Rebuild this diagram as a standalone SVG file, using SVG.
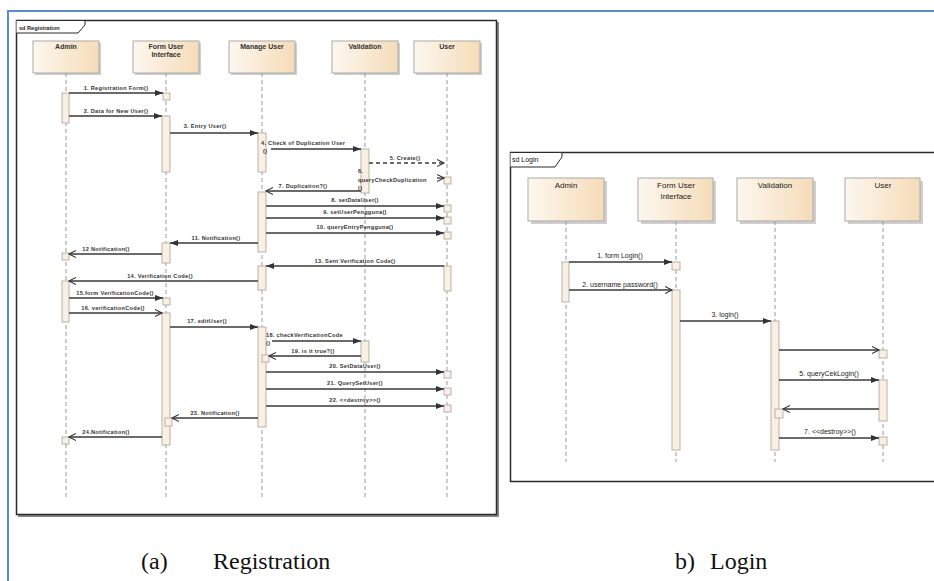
<svg xmlns="http://www.w3.org/2000/svg" width="934" height="581" viewBox="0 0 934 581">
<defs>
<linearGradient id="hg" x1="0" y1="0" x2="1" y2="0">
<stop offset="0" stop-color="#fdf7ef"/>
<stop offset="1" stop-color="#f5dcb8"/>
</linearGradient>
<marker id="f" markerUnits="userSpaceOnUse" markerWidth="9" markerHeight="7" refX="8" refY="3.5" orient="auto">
<path d="M0,0.5 L8,3.5 L0,6.5 z" fill="#333"/>
</marker>
<marker id="o" markerUnits="userSpaceOnUse" markerWidth="9" markerHeight="8" refX="7" refY="4" orient="auto">
<path d="M0,0.5 L7,4 L0,7.5" fill="none" stroke="#333" stroke-width="1.1"/>
</marker>
<style>
.head{fill:url(#hg);stroke:#aaa;stroke-width:1}
.shd{fill:#cfcfcf}
.ll{stroke:#999;stroke-width:1;stroke-dasharray:4,3;fill:none}
.act{fill:#f9efe2;stroke:#b9b2aa;stroke-width:1}
.m{stroke:#3a3a3a;stroke-width:1.3;fill:none}
.mf{marker-end:url(#f)}
.mo{marker-end:url(#o)}
.dash{stroke-dasharray:4,3}
.ht{font-family:"Liberation Sans",Arial,sans-serif;font-size:7px;font-weight:bold;fill:#333;text-anchor:middle}
.ht2{font-family:"Liberation Sans",Arial,sans-serif;font-size:8px;fill:#222;text-anchor:middle}
.lb{font-family:"Liberation Sans",Arial,sans-serif;font-size:5.6px;font-weight:bold;fill:#333;text-anchor:middle;letter-spacing:0.3px}
.lbl{text-anchor:start}
.lb2{font-family:"Liberation Sans",Arial,sans-serif;font-size:7px;fill:#222;text-anchor:middle}
.frame{fill:#fff;stroke:#2a2a2a;stroke-width:1.5}
.tab{fill:#fff;stroke:#2a2a2a;stroke-width:1}
.cap{font-family:"Liberation Serif","Times New Roman",serif;font-size:24px;fill:#111}
</style>
</defs>
<rect width="934" height="581" fill="#fff"/>
<!-- blue page border -->
<path d="M8,581 V11 H934" fill="none" stroke="#5b8ad0" stroke-width="2"/>

<!-- ===== Left diagram: Registration ===== -->
<g id="frame-registration">
<rect x="18" y="22" width="481" height="495" fill="#888"/>
<rect x="16.5" y="20.5" width="480" height="494" class="frame"/>
<path d="M16.5,20.5 H85 V25 L78,33 H16.5" class="tab"/>
<text x="19" y="29.5" style="font-family:'Liberation Sans',Arial,sans-serif;font-size:5.6px;font-weight:bold;fill:#222">sd Registration</text>
</g>

<g id="reg-admin">
<rect x="35" y="43" width="66" height="32" class="shd"/>
<rect x="33" y="41" width="66" height="32" class="head"/>
<text x="66" y="48.5" class="ht">Admin</text>
<line x1="66" y1="73" x2="66" y2="500" class="ll"/>
<rect x="62" y="93" width="7" height="30" class="act"/>
<rect x="62" y="253" width="7" height="7" class="act"/>
<rect x="62" y="281" width="7" height="41" class="act"/>
<rect x="62" y="437" width="7" height="7" class="act"/>
</g>
<g id="reg-form">
<rect x="135" y="43" width="66" height="32" class="shd"/>
<rect x="133" y="41" width="66" height="32" class="head"/>
<text x="166" y="48.5" class="ht">Form User</text>
<text x="166" y="57" class="ht">Interface</text>
<line x1="166" y1="73" x2="166" y2="500" class="ll"/>
<rect x="163" y="93" width="7" height="7" class="act"/>
<rect x="162" y="116" width="8" height="56" class="act"/>
<rect x="162" y="243" width="8" height="20" class="act"/>
<rect x="163" y="298" width="7" height="7" class="act"/>
<rect x="162" y="313" width="8" height="132" class="act"/>
<rect x="165" y="418" width="7" height="8" class="act"/>
</g>
<g id="reg-manage">
<rect x="231" y="43" width="66" height="32" class="shd"/>
<rect x="229" y="41" width="66" height="32" class="head"/>
<text x="262" y="48.5" class="ht">Manage User</text>
<line x1="262" y1="73" x2="262" y2="500" class="ll"/>
<rect x="258" y="133" width="8" height="39" class="act"/>
<rect x="258" y="192" width="8" height="60" class="act"/>
<rect x="258" y="266" width="8" height="24" class="act"/>
<rect x="258" y="327" width="8" height="100" class="act"/>
<rect x="262" y="355" width="7" height="7" class="act"/>
</g>
<g id="reg-validation">
<rect x="334" y="43" width="66" height="32" class="shd"/>
<rect x="332" y="41" width="66" height="32" class="head"/>
<text x="365" y="48.5" class="ht">Validation</text>
<line x1="365" y1="73" x2="365" y2="500" class="ll"/>
<rect x="361" y="149" width="8" height="44" class="act"/>
<rect x="361" y="341" width="8" height="21" class="act"/>
</g>
<g id="reg-user">
<rect x="416" y="43" width="66" height="32" class="shd"/>
<rect x="414" y="41" width="66" height="32" class="head"/>
<text x="447" y="48.5" class="ht">User</text>
<line x1="447" y1="73" x2="447" y2="500" class="ll"/>
<rect x="444" y="177" width="7" height="7" class="act"/>
<rect x="444" y="205" width="7" height="7" class="act"/>
<rect x="444" y="217" width="7" height="7" class="act"/>
<rect x="444" y="232" width="7" height="7" class="act"/>
<rect x="444" y="266" width="7" height="25" class="act"/>
<rect x="444" y="371" width="7" height="7" class="act"/>
<rect x="444" y="388" width="7" height="7" class="act"/>
<rect x="444" y="405" width="7" height="7" class="act"/>
</g>

<g id="reg-connectors">
<line x1="69" y1="93" x2="163" y2="93" class="m mf"/>
<text x="116" y="90" class="lb">1. Registration Form()</text>
<line x1="69" y1="116" x2="162" y2="116" class="m mf"/>
<text x="116" y="113" class="lb">2. Data for New User()</text>
<line x1="170" y1="133" x2="258" y2="133" class="m mf"/>
<text x="205" y="128" class="lb">3. Entry User()</text>
<line x1="271" y1="149" x2="361" y2="149" class="m mf"/>
<text x="261" y="145" class="lb lbl">4. Check of Duplication User</text>
<text x="263" y="153" class="lb lbl">()</text>
<line x1="369" y1="163" x2="444" y2="163" class="m mo dash"/>
<text x="405" y="159.5" class="lb">5. Create()</text>
<line x1="437" y1="178" x2="444" y2="178" class="m mo"/>
<text x="358" y="173" class="lb lbl">6.</text>
<text x="358" y="181.5" class="lb lbl">queryCheckDuplication</text>
<text x="358" y="190" class="lb lbl">()</text>
<line x1="361" y1="191" x2="266" y2="191" class="m mo"/>
<text x="303" y="188" class="lb">7. Duplication?()</text>
<line x1="266" y1="206" x2="444" y2="206" class="m mf"/>
<text x="355" y="202" class="lb">8. setDataUser()</text>
<line x1="266" y1="218" x2="444" y2="218" class="m mf"/>
<text x="355" y="214" class="lb">9. setUserPengguna()</text>
<line x1="266" y1="233" x2="444" y2="233" class="m mf"/>
<text x="355" y="229" class="lb">10. queryEntryPengguna()</text>
<line x1="258" y1="243" x2="170" y2="243" class="m mf"/>
<text x="216" y="240" class="lb">11. Notification()</text>
<line x1="162" y1="254" x2="69" y2="254" class="m mo"/>
<text x="106" y="251" class="lb">12 Notification()</text>
<line x1="444" y1="266" x2="266" y2="266" class="m mf"/>
<text x="355" y="262.5" class="lb">13. Sent Verification Code()</text>
<line x1="258" y1="281" x2="69" y2="281" class="m mo"/>
<text x="160" y="277.5" class="lb">14. Verification Code()</text>
<line x1="69" y1="298" x2="163" y2="298" class="m mf"/>
<text x="115" y="294.5" class="lb">15.form VerificationCode()</text>
<line x1="69" y1="313" x2="162" y2="313" class="m mo"/>
<text x="113" y="309.5" class="lb">16. verificationCode()</text>
<line x1="170" y1="327" x2="258" y2="327" class="m mf"/>
<text x="207" y="323" class="lb">17. editUser()</text>
<line x1="272" y1="341" x2="361" y2="341" class="m mf"/>
<text x="266" y="337" class="lb lbl">18. checkVerificationCode</text>
<text x="266" y="345" class="lb lbl">()</text>
<line x1="361" y1="356" x2="269" y2="356" class="m mo"/>
<text x="313" y="352.5" class="lb">19. is it true?()</text>
<line x1="266" y1="372" x2="444" y2="372" class="m mf"/>
<text x="355" y="368" class="lb">20. SetDataUser()</text>
<line x1="266" y1="389" x2="444" y2="389" class="m mf"/>
<text x="355" y="385" class="lb">21. QuerySetUser()</text>
<line x1="266" y1="406" x2="444" y2="406" class="m mf"/>
<text x="355" y="401.5" class="lb">22. &lt;&lt;destroy&gt;&gt;()</text>
<line x1="258" y1="418" x2="172" y2="418" class="m mo"/>
<text x="215" y="414.5" class="lb">23. Notification()</text>
<line x1="162" y1="437" x2="69" y2="437" class="m mo"/>
<text x="106" y="433.5" class="lb">24.Notification()</text>
</g>

<!-- ===== Right diagram: Login ===== -->
<g id="frame-login">
<rect x="510.5" y="152.5" width="430" height="329" class="frame" stroke-width="2"/>
<path d="M510.5,152.5 H562 V157 L555,167 H510.5" class="tab"/>
<text x="512" y="161.5" style="font-family:'Liberation Sans',Arial,sans-serif;font-size:7px;fill:#111">sd Login</text>
</g>

<g id="login-admin">
<rect x="531" y="181" width="76" height="43" class="shd"/>
<rect x="528" y="178" width="76" height="43" class="head"/>
<text x="566" y="188" class="ht2">Admin</text>
<line x1="566" y1="221" x2="566" y2="462" class="ll"/>
<rect x="562" y="262" width="7" height="40" class="act"/>
</g>
<g id="login-form">
<rect x="641" y="181" width="75" height="43" class="shd"/>
<rect x="638" y="178" width="75" height="43" class="head"/>
<text x="676" y="188" class="ht2">Form User</text>
<text x="676" y="198.5" class="ht2">Interface</text>
<line x1="676" y1="221" x2="676" y2="462" class="ll"/>
<rect x="672" y="262" width="8" height="8" class="act"/>
<rect x="672" y="290" width="8" height="160" class="act"/>
</g>
<g id="login-validation">
<rect x="740" y="181" width="76" height="43" class="shd"/>
<rect x="737" y="178" width="76" height="43" class="head"/>
<text x="775" y="188" class="ht2">Validation</text>
<line x1="775" y1="221" x2="775" y2="462" class="ll"/>
<rect x="771" y="321" width="8" height="129" class="act"/>
<rect x="775" y="409" width="8" height="9" class="act"/>
</g>
<g id="login-user">
<rect x="848" y="181" width="75" height="43" class="shd"/>
<rect x="845" y="178" width="75" height="43" class="head"/>
<text x="883" y="188" class="ht2">User</text>
<line x1="883" y1="221" x2="883" y2="462" class="ll"/>
<rect x="879" y="350" width="8" height="8" class="act"/>
<rect x="879" y="380" width="8" height="41" class="act"/>
<rect x="879" y="437" width="8" height="8" class="act"/>
</g>

<g id="login-connectors">
<line x1="569" y1="262" x2="672" y2="262" class="m mf"/>
<text x="620" y="257.5" class="lb2">1. form Login()</text>
<line x1="569" y1="290" x2="672" y2="290" class="m mo"/>
<text x="620" y="286.5" class="lb2">2. username password()</text>
<line x1="680" y1="321" x2="771" y2="321" class="m mf"/>
<text x="725" y="316.5" class="lb2">3. login()</text>
<line x1="779" y1="350" x2="879" y2="350" class="m mo"/>
<line x1="779" y1="380" x2="879" y2="380" class="m mf"/>
<text x="829" y="375.5" class="lb2">5. queryCekLogin()</text>
<line x1="879" y1="409" x2="783" y2="409" class="m mo"/>
<line x1="779" y1="438" x2="879" y2="438" class="m mf"/>
<text x="830" y="433.5" class="lb2">7. &lt;&lt;destroy&gt;&gt;()</text>
</g>

<!-- captions -->
<g id="captions">
<text x="141" y="569" class="cap">(a)</text>
<text x="213" y="569" class="cap">Registration</text>
<text x="675" y="569" class="cap">b)</text>
<text x="710" y="569" class="cap">Login</text>
</g>
</svg>
